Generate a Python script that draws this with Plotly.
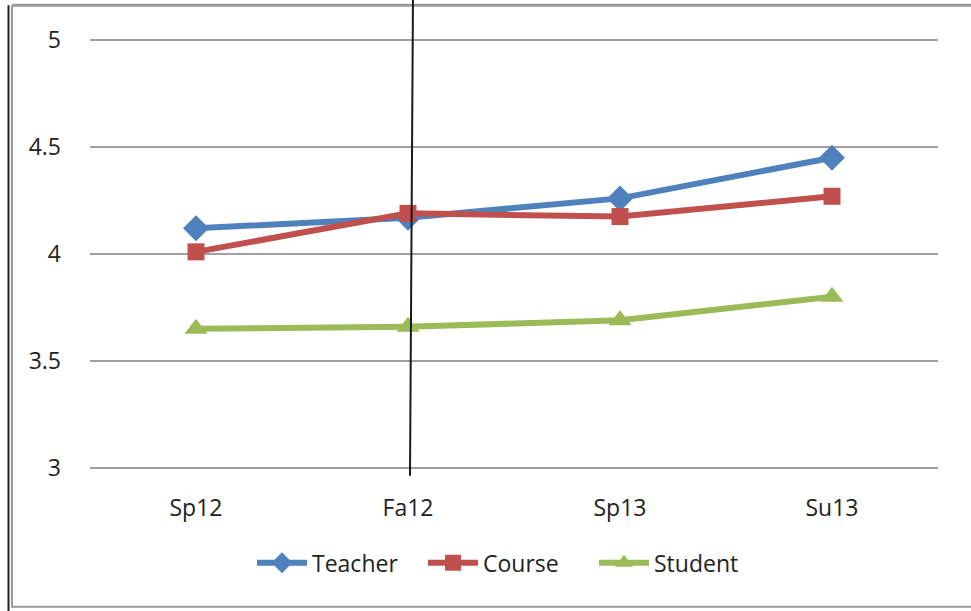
import plotly.graph_objects as go

categories = ["Sp12", "Fa12", "Sp13", "Su13"]
teacher = [4.12, 4.17, 4.26, 4.45]
course = [4.01, 4.19, 4.175, 4.27]
student = [3.65, 3.66, 3.69, 3.80]
y_ticks = [3, 3.5, 4, 4.5, 5]

W, H = 971, 611
PAD = 0.01
PPU = (468 - 40) / 2.0
L, R = 90, 938
T, B = 40 - PAD * PPU, 468 + PAD * PPU

def px(x):
    return (x - L) / (R - L)

def py(y):
    return (B - y) / (B - T)

fig = go.Figure()
fig.add_trace(go.Scatter(x=categories, y=teacher, name="Teacher", mode="lines+markers",
                         line=dict(color="#4F81BD", width=6),
                         marker=dict(symbol="diamond", size=20, color="#4F81BD")))
fig.add_trace(go.Scatter(x=categories, y=course, name="Course", mode="lines+markers",
                         line=dict(color="#C0504D", width=6),
                         marker=dict(symbol="square", size=17, color="#C0504D")))
fig.add_trace(go.Scatter(x=categories, y=student, name="Student", mode="lines+markers",
                         line=dict(color="#9BBB59", width=6),
                         marker=dict(symbol="triangle-up", size=20, color="#9BBB59")))

fig.update_layout(
    width=W, height=H, autosize=False,
    margin=dict(l=L, r=W - R, t=T, b=H - B, pad=0),
    paper_bgcolor="white", plot_bgcolor="white",
    font=dict(family="Open Sans, Liberation Sans, sans-serif", size=23, color="#222222"),
    showlegend=True,
    legend=dict(orientation="h", x=px(252), xanchor="left", y=py(563), yanchor="middle",
                font=dict(size=23), itemwidth=50, traceorder="normal",
                entrywidth=106, entrywidthmode="pixels"),
    xaxis=dict(range=[-0.5, 3.5], showgrid=False, zeroline=False, showline=False,
               ticks="", ticklabelstandoff=22, tickfont=dict(size=23)),
    yaxis=dict(range=[3 - PAD, 5 + PAD], tickvals=y_ticks, ticktext=["3", "3.5", "4", "4.5", "5"],
               showgrid=True, gridcolor="#A0A0A0", gridwidth=2, zeroline=False,
               showline=False, ticks="", ticklabelstandoff=28, tickfont=dict(size=23)),
    shapes=[
        # frame
        dict(type="line", xref="paper", yref="paper", x0=px(12), x1=px(975), y0=py(5), y1=py(5),
             line=dict(color="#9A9A9A", width=3), layer="below"),
        dict(type="line", xref="paper", yref="paper", x0=px(12), x1=px(12), y0=py(5), y1=py(608),
             line=dict(color="#9A9A9A", width=2), layer="below"),
        dict(type="line", xref="paper", yref="paper", x0=px(12), x1=px(975), y0=py(607), y1=py(607),
             line=dict(color="#9A9A9A", width=2), layer="below"),
        dict(type="line", xref="paper", yref="paper", x0=px(8.5), x1=px(8.5), y0=py(5), y1=py(615),
             line=dict(color="#222222", width=2)),
        # vertical marker line
        dict(type="line", xref="paper", yref="paper", x0=px(413), x1=px(410), y0=py(-5), y1=py(476),
             line=dict(color="#1A1A1A", width=2)),
    ],
)

fig.write_html("out.html", config={"displayModeBar": False},
               post_script="document.body.style.margin='0';document.body.style.overflow='hidden';")
